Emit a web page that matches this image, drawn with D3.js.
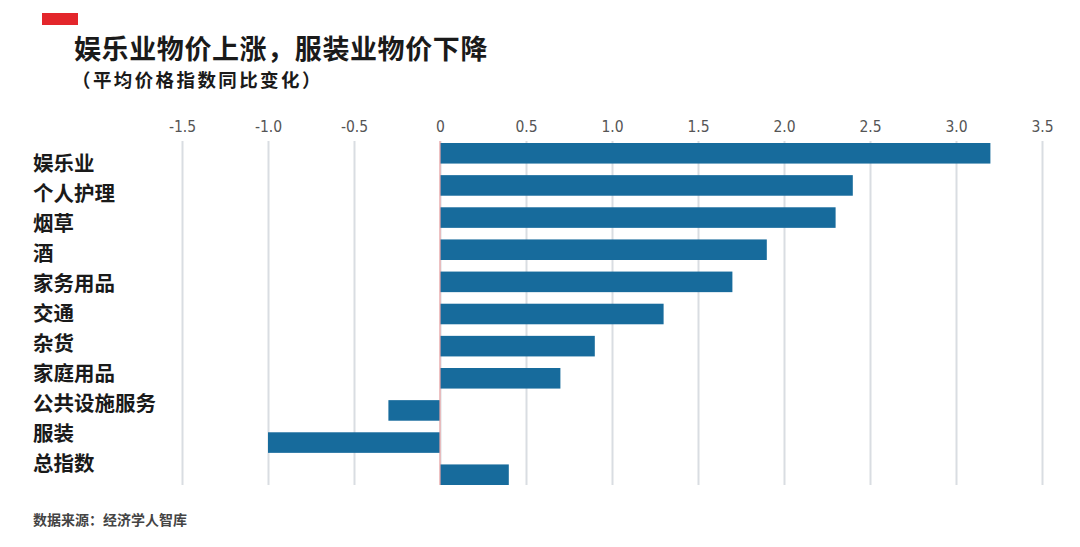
<!DOCTYPE html>
<html><head><meta charset="utf-8">
<script src="https://cdn.jsdelivr.net/npm/d3@7"></script>
<style>
html,body{margin:0;padding:0;background:#fff;}
svg{display:block;}
</style></head>
<body>
<svg id="chart" width="1080" height="547"></svg>
<script>
const categories = ["娱乐业","个人护理","烟草","酒","家务用品","交通","杂货","家庭用品","公共设施服务","服装","总指数"];
const values = [3.2, 2.4, 2.3, 1.9, 1.7, 1.3, 0.9, 0.7, -0.3, -1.0, 0.4];
const tickValues = [-1.5, -1.0, -0.5, 0, 0.5, 1.0, 1.5, 2.0, 2.5, 3.0, 3.5];
const tickLabels = ["-1.5","-1.0","-0.5","0","0.5","1.0","1.5","2.0","2.5","3.0","3.5"];
const title = "娱乐业物价上涨，服装业物价下降";
const subtitle = "（平均价格指数同比变化）";
const source = "数据来源：经济学人智库";

const svg = d3.select("#chart");
const cjk = "'Noto Sans CJK SC','Noto Sans CJK TC',sans-serif";

const x = d3.scaleLinear().domain([-1.5, 3.5]).range([182, 1042]);
const y = d3.scaleBand().domain(categories).range([143, 485]).paddingInner(0.36).paddingOuter(0);
const yLabel = d3.scalePoint().domain(categories).range([164, 464]);

// red marker
svg.append("rect").attr("x", 42).attr("y", 13).attr("width", 36).attr("height", 12).attr("fill", "#e3262b");

// title
svg.append("text").attr("x", 74).attr("y", 59).text(title)
  .attr("font-family", cjk).attr("font-weight", 700).attr("font-size", 27).attr("letter-spacing", 0.6).attr("fill", "#1a1a1a");
svg.append("text").attr("x", 72).attr("y", 87).text(subtitle)
  .attr("font-family", cjk).attr("font-weight", 700).attr("font-size", 18.5).attr("letter-spacing", 2.4).attr("fill", "#1a1a1a");

// grid + axis labels
const axis = d3.axisTop(x).tickValues(tickValues)
  .tickFormat((d, i) => tickLabels[i]).tickSize(-(485 - 141)).tickPadding(10);
const g = svg.append("g").attr("transform", "translate(0,141)").call(axis);
g.select(".domain").remove();
g.selectAll(".tick line").attr("stroke", "#d9dde2").attr("stroke-width", 2)
  .attr("y1", 0).attr("y2", 485 - 141);
g.selectAll(".tick text").attr("font-family", "'Liberation Sans Narrow','DejaVu Sans Condensed',sans-serif")
  .attr("font-size", 15.5).attr("fill", "#555").attr("y", -9).attr("dy", 0);

// bars
svg.append("g").selectAll("rect").data(categories).join("rect")
  .attr("x", (d, i) => x(Math.min(0, values[i])))
  .attr("y", d => y(d))
  .attr("width", (d, i) => Math.abs(x(values[i]) - x(0)))
  .attr("height", y.bandwidth())
  .attr("fill", "#176b9c");

// zero line
svg.append("line").attr("x1", x(0)).attr("x2", x(0)).attr("y1", 141).attr("y2", 485)
  .attr("stroke", "#f0a6a6").attr("stroke-width", 1.2);

// category labels
svg.append("g").selectAll("text").data(categories).join("text")
  .attr("x", 33).attr("y", d => yLabel(d)).attr("dy", "0.36em")
  .text(d => d)
  .attr("font-family", cjk).attr("font-weight", 700).attr("font-size", 20.5).attr("fill", "#1a1a1a");

// source
svg.append("text").attr("x", 33).attr("y", 525).text(source)
  .attr("font-family", cjk).attr("font-weight", 700).attr("font-size", 14).attr("fill", "#444");
</script>
</body></html>
